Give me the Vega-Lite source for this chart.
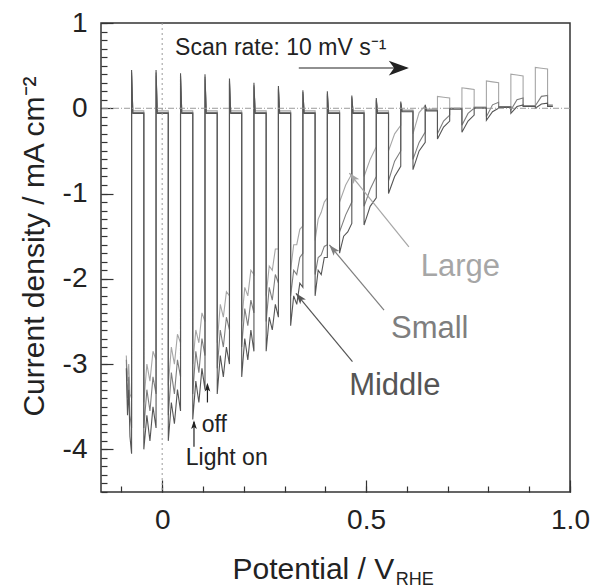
{
 "$schema": "https://vega.github.io/schema/vega-lite/v6.json",
 "width": 469,
 "height": 469,
 "autosize": {"type": "none"},
 "padding": {"left": 101, "top": 23, "right": 33, "bottom": 96},
 "background": "white",
 "config": {
  "view": {"stroke": "#333333", "strokeWidth": 1.5},
  "axis": {"labelFont": "Liberation Sans", "titleFont": "Liberation Sans", "labelFontSize": 28, "titleFontSize": 30, "labelColor": "#222222", "titleColor": "#222222", "titleFontWeight": "normal", "tickColor": "#333333", "tickWidth": 1.2, "domain": false, "grid": false, "labelOverlap": false, "labelFlush": false, "labelBound": false},
  "text": {"font": "Liberation Sans"}
 },
 "resolve": {"axis": {"x": "independent", "y": "independent"}},
 "datasets": {
  "trace": [
   {"s":"L","x":-0.088,"y":-2.9},{"s":"L","x":-0.085,"y":-3.2},{"s":"L","x":-0.082,"y":-3.0},{"s":"L","x":-0.079,"y":-3.35},{"s":"L","x":-0.075,"y":-3.4},{"s":"L","x":-0.075,"y":0.38},{"s":"L","x":-0.072,"y":-0.03},{"s":"L","x":-0.045,"y":-0.03},
   {"s":"L","x":-0.045,"y":-3.45},{"s":"L","x":-0.0375,"y":-3.0},{"s":"L","x":-0.03,"y":-3.2},{"s":"L","x":-0.0225,"y":-2.85},{"s":"L","x":-0.015,"y":-2.95},{"s":"L","x":-0.015,"y":0.38},{"s":"L","x":-0.012,"y":-0.03},{"s":"L","x":0.015,"y":-0.03},
   {"s":"L","x":0.015,"y":-3.25},{"s":"L","x":0.0225,"y":-2.8},{"s":"L","x":0.03,"y":-3.0},{"s":"L","x":0.0375,"y":-2.65},{"s":"L","x":0.045,"y":-2.75},{"s":"L","x":0.045,"y":0.35},{"s":"L","x":0.048,"y":-0.03},{"s":"L","x":0.075,"y":-0.03},
   {"s":"L","x":0.075,"y":-3.0},{"s":"L","x":0.0825,"y":-2.6},{"s":"L","x":0.09,"y":-2.75},{"s":"L","x":0.0975,"y":-2.4},{"s":"L","x":0.105,"y":-2.5},{"s":"L","x":0.105,"y":0.34},{"s":"L","x":0.108,"y":-0.03},{"s":"L","x":0.135,"y":-0.03},
   {"s":"L","x":0.135,"y":-2.75},{"s":"L","x":0.1425,"y":-2.3},{"s":"L","x":0.15,"y":-2.45},{"s":"L","x":0.1575,"y":-2.15},{"s":"L","x":0.165,"y":-2.2},{"s":"L","x":0.165,"y":0.29},{"s":"L","x":0.168,"y":-0.03},{"s":"L","x":0.195,"y":-0.03},
   {"s":"L","x":0.195,"y":-2.5},{"s":"L","x":0.2025,"y":-2.1},{"s":"L","x":0.21,"y":-2.2},{"s":"L","x":0.2175,"y":-1.9},{"s":"L","x":0.225,"y":-1.95},{"s":"L","x":0.225,"y":0.25},{"s":"L","x":0.228,"y":-0.03},{"s":"L","x":0.255,"y":-0.03},
   {"s":"L","x":0.255,"y":-2.2},{"s":"L","x":0.2625,"y":-1.85},{"s":"L","x":0.27,"y":-1.9},{"s":"L","x":0.2775,"y":-1.65},{"s":"L","x":0.285,"y":-1.65},{"s":"L","x":0.285,"y":0.21},{"s":"L","x":0.288,"y":-0.03},{"s":"L","x":0.315,"y":-0.03},
   {"s":"L","x":0.315,"y":-1.9},{"s":"L","x":0.3225,"y":-1.6},{"s":"L","x":0.33,"y":-1.6},{"s":"L","x":0.3375,"y":-1.42},{"s":"L","x":0.345,"y":-1.38},{"s":"L","x":0.345,"y":0.17},{"s":"L","x":0.348,"y":-0.03},{"s":"L","x":0.375,"y":-0.03},
   {"s":"L","x":0.375,"y":-1.55},{"s":"L","x":0.3825,"y":-1.3},{"s":"L","x":0.39,"y":-1.22},{"s":"L","x":0.3975,"y":-1.1},{"s":"L","x":0.405,"y":-1.05},{"s":"L","x":0.405,"y":0.15},{"s":"L","x":0.408,"y":-0.03},{"s":"L","x":0.435,"y":-0.03},
   {"s":"L","x":0.435,"y":-1.1},{"s":"L","x":0.45,"y":-0.9},{"s":"L","x":0.465,"y":-0.77},{"s":"L","x":0.465,"y":0.11},{"s":"L","x":0.468,"y":-0.03},{"s":"L","x":0.495,"y":-0.03},
   {"s":"L","x":0.495,"y":-0.8},{"s":"L","x":0.51,"y":-0.6},{"s":"L","x":0.525,"y":-0.45},{"s":"L","x":0.525,"y":0.08},{"s":"L","x":0.528,"y":-0.03},{"s":"L","x":0.555,"y":-0.03},
   {"s":"L","x":0.555,"y":-0.5},{"s":"L","x":0.57,"y":-0.3},{"s":"L","x":0.585,"y":-0.2},{"s":"L","x":0.585,"y":0.05},{"s":"L","x":0.588,"y":-0.02},{"s":"L","x":0.615,"y":-0.02},
   {"s":"L","x":0.615,"y":-0.3},{"s":"L","x":0.63,"y":-0.05},{"s":"L","x":0.645,"y":0.03},{"s":"L","x":0.645,"y":0.02},{"s":"L","x":0.648,"y":-0.01},{"s":"L","x":0.675,"y":-0.01},
   {"s":"L","x":0.675,"y":0.14},{"s":"L","x":0.69,"y":0.13},{"s":"L","x":0.705,"y":0.12},{"s":"L","x":0.705,"y":0.0},{"s":"L","x":0.735,"y":0.0},
   {"s":"L","x":0.735,"y":0.24},{"s":"L","x":0.75,"y":0.23},{"s":"L","x":0.765,"y":0.22},{"s":"L","x":0.765,"y":0.01},{"s":"L","x":0.795,"y":0.01},
   {"s":"L","x":0.795,"y":0.32},{"s":"L","x":0.81,"y":0.31},{"s":"L","x":0.825,"y":0.30},{"s":"L","x":0.825,"y":0.02},{"s":"L","x":0.855,"y":0.02},
   {"s":"L","x":0.855,"y":0.40},{"s":"L","x":0.87,"y":0.39},{"s":"L","x":0.885,"y":0.38},{"s":"L","x":0.885,"y":0.03},{"s":"L","x":0.915,"y":0.03},
   {"s":"L","x":0.915,"y":0.48},{"s":"L","x":0.93,"y":0.47},{"s":"L","x":0.945,"y":0.46},{"s":"L","x":0.945,"y":0.04},{"s":"L","x":0.958,"y":0.04},

   {"s":"S","x":-0.088,"y":-2.95},{"s":"S","x":-0.085,"y":-3.4},{"s":"S","x":-0.082,"y":-3.15},{"s":"S","x":-0.079,"y":-3.6},{"s":"S","x":-0.075,"y":-3.75},{"s":"S","x":-0.075,"y":0.42},{"s":"S","x":-0.072,"y":-0.05},{"s":"S","x":-0.045,"y":-0.05},
   {"s":"S","x":-0.045,"y":-3.75},{"s":"S","x":-0.0375,"y":-3.3},{"s":"S","x":-0.03,"y":-3.55},{"s":"S","x":-0.0225,"y":-3.15},{"s":"S","x":-0.015,"y":-3.35},{"s":"S","x":-0.015,"y":0.42},{"s":"S","x":-0.012,"y":-0.05},{"s":"S","x":0.015,"y":-0.05},
   {"s":"S","x":0.015,"y":-3.6},{"s":"S","x":0.0225,"y":-3.1},{"s":"S","x":0.03,"y":-3.35},{"s":"S","x":0.0375,"y":-2.95},{"s":"S","x":0.045,"y":-3.15},{"s":"S","x":0.045,"y":0.38},{"s":"S","x":0.048,"y":-0.05},{"s":"S","x":0.075,"y":-0.05},
   {"s":"S","x":0.075,"y":-3.35},{"s":"S","x":0.0825,"y":-2.85},{"s":"S","x":0.09,"y":-3.1},{"s":"S","x":0.0975,"y":-2.7},{"s":"S","x":0.105,"y":-2.9},{"s":"S","x":0.105,"y":0.37},{"s":"S","x":0.108,"y":-0.05},{"s":"S","x":0.135,"y":-0.05},
   {"s":"S","x":0.135,"y":-3.05},{"s":"S","x":0.1425,"y":-2.6},{"s":"S","x":0.15,"y":-2.8},{"s":"S","x":0.1575,"y":-2.45},{"s":"S","x":0.165,"y":-2.6},{"s":"S","x":0.165,"y":0.32},{"s":"S","x":0.168,"y":-0.05},{"s":"S","x":0.195,"y":-0.05},
   {"s":"S","x":0.195,"y":-2.8},{"s":"S","x":0.2025,"y":-2.35},{"s":"S","x":0.21,"y":-2.55},{"s":"S","x":0.2175,"y":-2.25},{"s":"S","x":0.225,"y":-2.4},{"s":"S","x":0.225,"y":0.27},{"s":"S","x":0.228,"y":-0.05},{"s":"S","x":0.255,"y":-0.05},
   {"s":"S","x":0.255,"y":-2.5},{"s":"S","x":0.2625,"y":-2.1},{"s":"S","x":0.27,"y":-2.25},{"s":"S","x":0.2775,"y":-1.95},{"s":"S","x":0.285,"y":-2.05},{"s":"S","x":0.285,"y":0.23},{"s":"S","x":0.288,"y":-0.05},{"s":"S","x":0.315,"y":-0.05},
   {"s":"S","x":0.315,"y":-2.2},{"s":"S","x":0.3225,"y":-1.9},{"s":"S","x":0.33,"y":-1.95},{"s":"S","x":0.3375,"y":-1.75},{"s":"S","x":0.345,"y":-1.7},{"s":"S","x":0.345,"y":0.19},{"s":"S","x":0.348,"y":-0.05},{"s":"S","x":0.375,"y":-0.05},
   {"s":"S","x":0.375,"y":-1.95},{"s":"S","x":0.3825,"y":-1.75},{"s":"S","x":0.39,"y":-1.72},{"s":"S","x":0.3975,"y":-1.62},{"s":"S","x":0.405,"y":-1.6},{"s":"S","x":0.405,"y":0.17},{"s":"S","x":0.408,"y":-0.05},{"s":"S","x":0.435,"y":-0.05},
   {"s":"S","x":0.435,"y":-1.45},{"s":"S","x":0.45,"y":-1.25},{"s":"S","x":0.465,"y":-1.1},{"s":"S","x":0.465,"y":0.13},{"s":"S","x":0.468,"y":-0.05},{"s":"S","x":0.495,"y":-0.05},
   {"s":"S","x":0.495,"y":-1.15},{"s":"S","x":0.51,"y":-0.95},{"s":"S","x":0.525,"y":-0.8},{"s":"S","x":0.525,"y":0.10},{"s":"S","x":0.528,"y":-0.05},{"s":"S","x":0.555,"y":-0.05},
   {"s":"S","x":0.555,"y":-0.85},{"s":"S","x":0.57,"y":-0.62},{"s":"S","x":0.585,"y":-0.5},{"s":"S","x":0.585,"y":0.06},{"s":"S","x":0.588,"y":-0.03},{"s":"S","x":0.615,"y":-0.03},
   {"s":"S","x":0.615,"y":-0.6},{"s":"S","x":0.63,"y":-0.4},{"s":"S","x":0.645,"y":-0.28},{"s":"S","x":0.645,"y":0.03},{"s":"S","x":0.648,"y":-0.02},{"s":"S","x":0.675,"y":-0.02},
   {"s":"S","x":0.675,"y":-0.3},{"s":"S","x":0.69,"y":-0.15},{"s":"S","x":0.705,"y":-0.08},{"s":"S","x":0.705,"y":0.0},{"s":"S","x":0.735,"y":0.0},
   {"s":"S","x":0.735,"y":-0.2},{"s":"S","x":0.75,"y":-0.06},{"s":"S","x":0.765,"y":0.0},{"s":"S","x":0.765,"y":0.01},{"s":"S","x":0.795,"y":0.01},
   {"s":"S","x":0.795,"y":-0.1},{"s":"S","x":0.81,"y":0.04},{"s":"S","x":0.825,"y":0.07},{"s":"S","x":0.825,"y":0.02},{"s":"S","x":0.855,"y":0.02},
   {"s":"S","x":0.855,"y":-0.02},{"s":"S","x":0.87,"y":0.1},{"s":"S","x":0.885,"y":0.12},{"s":"S","x":0.885,"y":0.03},{"s":"S","x":0.915,"y":0.03},
   {"s":"S","x":0.915,"y":0.03},{"s":"S","x":0.93,"y":0.14},{"s":"S","x":0.945,"y":0.15},{"s":"S","x":0.945,"y":0.03},{"s":"S","x":0.958,"y":0.03},

   {"s":"M","x":-0.088,"y":-3.05},{"s":"M","x":-0.085,"y":-3.6},{"s":"M","x":-0.082,"y":-3.3},{"s":"M","x":-0.079,"y":-3.85},{"s":"M","x":-0.075,"y":-4.05},{"s":"M","x":-0.075,"y":0.45},{"s":"M","x":-0.072,"y":-0.06},{"s":"M","x":-0.045,"y":-0.06},
   {"s":"M","x":-0.045,"y":-4.0},{"s":"M","x":-0.0375,"y":-3.6},{"s":"M","x":-0.03,"y":-3.9},{"s":"M","x":-0.0225,"y":-3.5},{"s":"M","x":-0.015,"y":-3.75},{"s":"M","x":-0.015,"y":0.45},{"s":"M","x":-0.012,"y":-0.06},{"s":"M","x":0.015,"y":-0.06},
   {"s":"M","x":0.015,"y":-3.9},{"s":"M","x":0.0225,"y":-3.45},{"s":"M","x":0.03,"y":-3.7},{"s":"M","x":0.0375,"y":-3.3},{"s":"M","x":0.045,"y":-3.55},{"s":"M","x":0.045,"y":0.41},{"s":"M","x":0.048,"y":-0.06},{"s":"M","x":0.075,"y":-0.06},
   {"s":"M","x":0.075,"y":-3.65},{"s":"M","x":0.0825,"y":-3.2},{"s":"M","x":0.09,"y":-3.45},{"s":"M","x":0.0975,"y":-3.05},{"s":"M","x":0.105,"y":-3.3},{"s":"M","x":0.105,"y":0.40},{"s":"M","x":0.108,"y":-0.06},{"s":"M","x":0.135,"y":-0.06},
   {"s":"M","x":0.135,"y":-3.35},{"s":"M","x":0.1425,"y":-2.9},{"s":"M","x":0.15,"y":-3.15},{"s":"M","x":0.1575,"y":-2.8},{"s":"M","x":0.165,"y":-3.0},{"s":"M","x":0.165,"y":0.35},{"s":"M","x":0.168,"y":-0.06},{"s":"M","x":0.195,"y":-0.06},
   {"s":"M","x":0.195,"y":-3.15},{"s":"M","x":0.2025,"y":-2.7},{"s":"M","x":0.21,"y":-2.95},{"s":"M","x":0.2175,"y":-2.6},{"s":"M","x":0.225,"y":-2.85},{"s":"M","x":0.225,"y":0.30},{"s":"M","x":0.228,"y":-0.06},{"s":"M","x":0.255,"y":-0.06},
   {"s":"M","x":0.255,"y":-2.85},{"s":"M","x":0.2625,"y":-2.45},{"s":"M","x":0.27,"y":-2.6},{"s":"M","x":0.2775,"y":-2.3},{"s":"M","x":0.285,"y":-2.45},{"s":"M","x":0.285,"y":0.26},{"s":"M","x":0.288,"y":-0.06},{"s":"M","x":0.315,"y":-0.06},
   {"s":"M","x":0.315,"y":-2.55},{"s":"M","x":0.3225,"y":-2.2},{"s":"M","x":0.33,"y":-2.3},{"s":"M","x":0.3375,"y":-2.05},{"s":"M","x":0.345,"y":-2.1},{"s":"M","x":0.345,"y":0.21},{"s":"M","x":0.348,"y":-0.06},{"s":"M","x":0.375,"y":-0.06},
   {"s":"M","x":0.375,"y":-2.2},{"s":"M","x":0.3825,"y":-1.9},{"s":"M","x":0.39,"y":-1.95},{"s":"M","x":0.3975,"y":-1.75},{"s":"M","x":0.405,"y":-1.75},{"s":"M","x":0.405,"y":0.20},{"s":"M","x":0.408,"y":-0.06},{"s":"M","x":0.435,"y":-0.06},
   {"s":"M","x":0.435,"y":-1.7},{"s":"M","x":0.445,"y":-1.5},{"s":"M","x":0.455,"y":-1.45},{"s":"M","x":0.465,"y":-1.35},{"s":"M","x":0.465,"y":0.15},{"s":"M","x":0.468,"y":-0.06},{"s":"M","x":0.495,"y":-0.06},
   {"s":"M","x":0.495,"y":-1.37},{"s":"M","x":0.51,"y":-1.15},{"s":"M","x":0.525,"y":-1.05},{"s":"M","x":0.525,"y":0.12},{"s":"M","x":0.528,"y":-0.06},{"s":"M","x":0.555,"y":-0.06},
   {"s":"M","x":0.555,"y":-1.0},{"s":"M","x":0.57,"y":-0.8},{"s":"M","x":0.585,"y":-0.68},{"s":"M","x":0.585,"y":0.08},{"s":"M","x":0.588,"y":-0.04},{"s":"M","x":0.615,"y":-0.04},
   {"s":"M","x":0.615,"y":-0.72},{"s":"M","x":0.63,"y":-0.5},{"s":"M","x":0.645,"y":-0.4},{"s":"M","x":0.645,"y":0.04},{"s":"M","x":0.648,"y":-0.03},{"s":"M","x":0.675,"y":-0.03},
   {"s":"M","x":0.675,"y":-0.36},{"s":"M","x":0.69,"y":-0.22},{"s":"M","x":0.705,"y":-0.15},{"s":"M","x":0.705,"y":-0.01},{"s":"M","x":0.735,"y":-0.01},
   {"s":"M","x":0.735,"y":-0.28},{"s":"M","x":0.75,"y":-0.15},{"s":"M","x":0.765,"y":-0.08},{"s":"M","x":0.765,"y":0.0},{"s":"M","x":0.795,"y":0.0},
   {"s":"M","x":0.795,"y":-0.14},{"s":"M","x":0.81,"y":-0.04},{"s":"M","x":0.825,"y":0.0},{"s":"M","x":0.825,"y":0.01},{"s":"M","x":0.855,"y":0.01},
   {"s":"M","x":0.855,"y":-0.06},{"s":"M","x":0.87,"y":0.02},{"s":"M","x":0.885,"y":0.04},{"s":"M","x":0.885,"y":0.02},{"s":"M","x":0.915,"y":0.02},
   {"s":"M","x":0.915,"y":0.0},{"s":"M","x":0.93,"y":0.05},{"s":"M","x":0.945,"y":0.06},{"s":"M","x":0.945,"y":0.02},{"s":"M","x":0.958,"y":0.02}
  ]
 },
 "layer": [
  {
   "data": {"name": "trace"},
   "transform": [{"window": [{"op": "row_number", "as": "i"}]}],
   "mark": {"type": "line", "strokeWidth": 1.1, "clip": true},
   "encoding": {
    "x": {"field": "x", "type": "quantitative", "scale": {"domain": [-0.15, 1.0], "nice": false, "zero": false},
     "axis": {"orient": "bottom", "title": "Potential / V", "values": [0, 0.5, 1.0],
      "labelExpr": "datum.value == 0 ? '0' : format(datum.value, '.1f')",
      "tickSize": 12, "offset": -12, "labelPadding": 14,
      "titleX": 131, "titleY": 98, "titleAlign": "left", "titleBaseline": "alphabetic"}},
    "y": {"field": "y", "type": "quantitative", "scale": {"domain": [-4.5, 1], "nice": false, "zero": false},
     "axis": {"orient": "left", "title": "Current density / mA cm⁻²", "values": [1, 0, -1, -2, -3, -4],
      "labelExpr": "replace(datum.label, '−', '-')",
      "tickSize": 12, "offset": -12, "labelPadding": 14,
      "titleX": -70, "titleY": 223, "titleAngle": -90, "titleAlign": "center", "titleBaseline": "alphabetic"}},
    "color": {"field": "s", "type": "nominal", "scale": {"domain": ["L", "S", "M"], "range": ["#a6a6a6", "#7e7e7e", "#555555"]}, "legend": null},
    "order": {"field": "i", "type": "quantitative"}
   }
  },
  {
   "data": {"values": [{}]},
   "mark": {"type": "rule", "color": "#9a9a9a", "strokeWidth": 1, "strokeDash": [2, 3]},
   "encoding": {"x": {"datum": 0, "type": "quantitative", "axis": null}}
  },
  {
   "data": {"values": [{}]},
   "mark": {"type": "rule", "color": "#9a9a9a", "strokeWidth": 1, "strokeDash": [6, 2, 1, 2]},
   "encoding": {"y": {"datum": 0, "type": "quantitative", "axis": null}}
  },
  {
   "data": {"values": [{"s": "L", "t": "Large", "x": 0.634, "y": -1.967}, {"s": "S", "t": "Small", "x": 0.561, "y": -2.694}, {"s": "M", "t": "Middle", "x": 0.4585, "y": -3.363}]},
   "mark": {"type": "text", "align": "left", "baseline": "alphabetic", "fontSize": 31, "font": "Liberation Sans"},
   "encoding": {
    "x": {"field": "x", "type": "quantitative",
     "axis": {"orient": "bottom", "values": [-0.1, 0, 0.1, 0.2, 0.3, 0.4, 0.5, 0.6, 0.7, 0.8, 0.9, 1.0], "labels": false, "title": null, "tickSize": 6, "offset": -6}},
    "y": {"field": "y", "type": "quantitative",
     "axis": {"orient": "left", "values": [1, 0.9, 0.8, 0.7, 0.6, 0.5, 0.4, 0.3, 0.2, 0.1, 0, -0.1, -0.2, -0.3, -0.4, -0.5, -0.6, -0.7, -0.8, -0.9, -1, -1.1, -1.2, -1.3, -1.4, -1.5, -1.6, -1.7, -1.8, -1.9, -2, -2.1, -2.2, -2.3, -2.4, -2.5, -2.6, -2.7, -2.8, -2.9, -3, -3.1, -3.2, -3.3, -3.4, -3.5, -3.6, -3.7, -3.8, -3.9, -4, -4.1, -4.2, -4.3, -4.4, -4.5], "labels": false, "title": null, "tickSize": 6, "offset": -6}},
    "text": {"field": "t"},
    "color": {"field": "s", "type": "nominal", "legend": null}}
  },
  {
   "data": {"values": [{"s": "L", "x": 0.605, "y": -1.624, "x2": 0.459, "y2": -0.76}, {"s": "S", "x": 0.544, "y": -2.366, "x2": 0.41, "y2": -1.603}, {"s": "M", "x": 0.4666, "y": -2.972, "x2": 0.328, "y2": -2.17}]},
   "mark": {"type": "rule", "strokeWidth": 1.2},
   "encoding": {"x": {"field": "x", "type": "quantitative", "axis": null}, "y": {"field": "y", "type": "quantitative", "axis": null}, "x2": {"field": "x2"}, "y2": {"field": "y2"}, "color": {"field": "s", "type": "nominal", "legend": null}}
  },
  {
   "data": {"values": [{"s": "L", "x2": 0.459, "y2": -0.76}, {"s": "S", "x2": 0.41, "y2": -1.603}, {"s": "M", "x2": 0.328, "y2": -2.17}]},
   "mark": {"type": "point", "shape": "M0,0L0.5,1.5L0,1.15L-0.5,1.5Z", "filled": true, "opacity": 1, "size": 220, "angle": 320},
   "encoding": {"x": {"field": "x2", "type": "quantitative", "axis": null}, "y": {"field": "y2", "type": "quantitative", "axis": null}, "color": {"field": "s", "type": "nominal", "legend": null}}
  },
  {
   "data": {"values": [{"t": "Scan rate: 10 mV s⁻¹", "x": 0.0317, "y": 0.625}, {"t": "Light on", "x": 0.058, "y": -4.18}, {"t": "off", "x": 0.097, "y": -3.793}]},
   "mark": {"type": "text", "align": "left", "baseline": "alphabetic", "fontSize": 23, "font": "Liberation Sans", "color": "#222222"},
   "encoding": {"x": {"field": "x", "type": "quantitative", "axis": null}, "y": {"field": "y", "type": "quantitative", "axis": null}, "text": {"field": "t"}}
  },
  {
   "data": {"values": [{"t": "RHE", "x": 0.573, "y": -5.59}]},
   "mark": {"type": "text", "align": "left", "baseline": "alphabetic", "fontSize": 18, "font": "Liberation Sans", "color": "#222222", "clip": false},
   "encoding": {"x": {"field": "x", "type": "quantitative", "axis": null}, "y": {"field": "y", "type": "quantitative", "axis": null}, "text": {"field": "t"}}
  },
  {
   "data": {"values": [{"x": 0.335, "y": 0.472, "x2": 0.6, "y2": 0.472}, {"x": 0.078, "y": -3.97, "x2": 0.078, "y2": -3.68}, {"x": 0.111, "y": -3.45, "x2": 0.111, "y2": -3.24}]},
   "mark": {"type": "rule", "strokeWidth": 1.2, "color": "#222222"},
   "encoding": {"x": {"field": "x", "type": "quantitative", "axis": null}, "y": {"field": "y", "type": "quantitative", "axis": null}, "x2": {"field": "x2"}, "y2": {"field": "y2"}}
  },
  {
   "data": {"values": [{"x": 0.605, "y": 0.472}]},
   "mark": {"type": "point", "shape": "M0,0L0.55,1.5L0,1.1L-0.55,1.5Z", "filled": true, "opacity": 1, "size": 720, "angle": 90, "color": "#222222"},
   "encoding": {"x": {"field": "x", "type": "quantitative", "axis": null}, "y": {"field": "y", "type": "quantitative", "axis": null}}
  },
  {
   "data": {"values": [{"x": 0.078, "y": -3.66}, {"x": 0.111, "y": -3.22}]},
   "mark": {"type": "point", "shape": "M0,0L0.5,1.5L0,1.15L-0.5,1.5Z", "filled": true, "opacity": 1, "size": 130, "color": "#222222"},
   "encoding": {"x": {"field": "x", "type": "quantitative", "axis": null}, "y": {"field": "y", "type": "quantitative", "axis": null}}
  }
 ]
}
